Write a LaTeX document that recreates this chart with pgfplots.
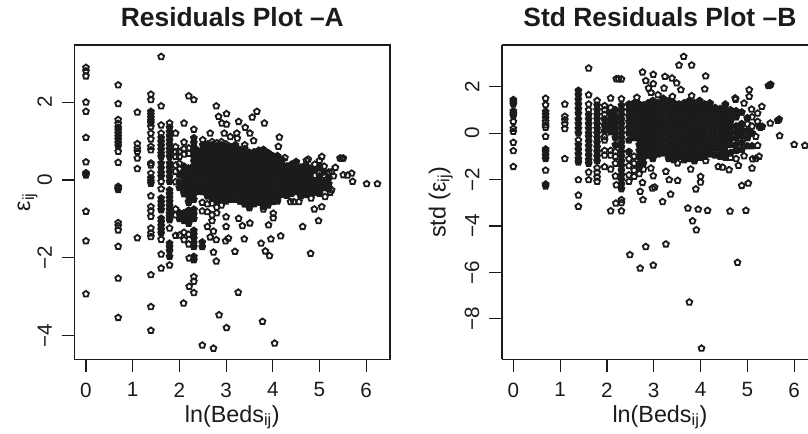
\documentclass[border=0pt]{standalone}
\usepackage{pgfplots}
\usepackage{fontspec}
\setmainfont{Liberation Sans}
\pgfplotsset{compat=1.18}
\usetikzlibrary{plotmarks}
\definecolor{ink}{HTML}{1C1A1B}
\pgfplotsset{
  panel/.style={
    scale only axis, anchor=south west, height=235.7pt,
    axis line style={ink,line width=0.85pt},
    tick style={ink,line width=0.85pt},
    tick align=outside, major tick length=9.5pt,
    xtick pos=bottom, ytick pos=left,
    xtick={0,1,2,3,4,5,6}, xticklabels={0,1,2,3,4,5,6},
    tick label style={font=\fontsize{15.5}{15.5}\selectfont,text=ink},
    x tick label style={yshift=-4.5pt},
    y tick label style={rotate=90,anchor=south,yshift=4pt},
    xlabel={ln(Beds\textsubscript{ij})},
    label style={font=\fontsize{17.5}{17.5}\selectfont,text=ink},
    xlabel style={yshift=1pt},
    title style={font=\bfseries\fontsize{19.8}{19.8}\selectfont,text=ink,yshift=4pt},
  },
  pts/.style={only marks,mark=pentagon,mark size=2.3pt,
    mark options={draw=ink,line width=1.35pt,fill=none,solid},draw=ink},
  dense/.style={only marks,mark=pentagon*,mark size=2.3pt,
    mark options={draw=ink,line width=1.35pt,fill=ink,solid},draw=ink},
}
\begin{document}
\begin{tikzpicture}
\path[use as bounding box] (0pt,0pt) rectangle (606pt,324.75pt);
\begin{axis}[panel, at={(56pt,55.3pt)}, width=236.5pt,
  xmin=-0.242, xmax=6.51, ymin=-4.61, ymax=3.47,
  ytick={-4,-2,0,2}, yticklabels={−4,−2,0,2},
  title={Residuals Plot –A},
  ylabel={ε\textsubscript{ij}}, ylabel style={yshift=-7pt}]
\addplot[pts] coordinates {
(0,2.89)(0,2.8)(0,2.67)(0,2.0)(0,1.76)(0,1.09)(0,.46)(0,-.81)(0,-1.57)(0,-2.93)
(.69,2.44)(.69,1.96)(.69,1.55)(.69,1.45)(.69,.73)(.69,.45)(.69,-1.1)(.69,-1.18)(.69,-1.29)(.69,-1.71)(.69,-2.53)(.69,-3.54)
(1.1,1.74)(1.1,.93)(1.1,.81)(1.1,.73)(1.1,.56)(1.1,.29)(1.1,-1.49)
(1.39,2.2)(1.39,2.06)(1.39,1.37)(1.39,1.2)(1.39,1.05)(1.39,.86)(1.39,.77)(1.39,.43)(1.39,.38)(1.39,.17)(1.39,-.41)(1.39,-.69)(1.39,-.8)(1.39,-.94)(1.39,-1.24)(1.39,-1.37)(1.39,-1.46)(1.39,-2.44)(1.39,-3.26)(1.39,-3.87)
(1.61,3.17)(1.61,1.9)(1.61,1.41)(1.61,1.2)(1.61,-.04)(1.61,-.23)(1.61,-1.53)(1.61,-1.91)(1.61,-2.27)
(1.79,1.46)(1.79,-1.24)(1.79,-2.19)
(1.92,1.2)(1.92,.85)(1.92,.72)(1.92,.6)(1.92,.38)(1.92,.22)(1.92,-.05)(1.92,-.75)(1.92,-.9)(1.92,-1.43)
(2.0,.72)(2.0,.6)(2.0,.42)(2.0,.28)(2.0,-.85)(2.0,-1.42)
(2.1,1.46)(2.1,.97)(2.1,.8)(2.1,.66)(2.1,-.36)(2.1,-1.35)(2.1,-1.54)(2.09,-3.17)
(2.2,2.16)(2.2,.82)(2.2,.68)(2.2,-.42)(2.2,-.58)(2.2,-1.4)(2.2,-1.65)(2.21,-2.01)(2.21,-2.74)
(2.31,2.06)(2.31,1.3)(2.31,-.76)(2.31,-2.49)(2.31,-2.61)(2.31,-2.9)
(2.5,1.03)(2.5,-.3)(2.49,-.58)(2.49,-.8)(2.49,-4.25)
(2.6,.92)(2.6,-.62)(2.6,-.82)(2.6,-1.2)(2.66,1.2)(2.66,-1.47)
(2.7,.98)(2.7,-.6)(2.7,-.9)(2.7,-1.05)(2.73,-1.86)(2.73,-1.32)(2.73,-4.33)
(2.8,.95)(2.8,-.7)(2.8,-.85)(2.79,1.9)(2.79,-1.54)(2.79,-2.09)(2.85,-3.47)
(2.9,.98)(2.9,-.48)(2.9,-.65)(2.84,1.63)(2.91,1.46)
(3.0,.92)(3.0,-.5)(3.0,-.95)(3.0,-1.2)(2.96,1.2)(3.01,1.7)(3.01,1.43)(2.99,-1.57)(3.05,-1.5)(3.01,-3.8)
(3.1,.85)(3.1,-.5)(3.09,1.11)
(3.2,.9)(3.2,-.45)(3.23,1.2)(3.24,1.07)(3.27,1.5)(3.19,.86)(3.19,-1.84)(3.26,-2.89)(3.27,-.99)
(3.3,.78)(3.3,-.55)(3.35,-1.18)
(3.4,.9)(3.4,-.62)(3.41,1.35)(3.39,-1.52)
(3.5,.7)(3.5,-.72)(3.51,1.2)(3.51,-1.11)
(3.6,.72)(3.6,-.62)(3.59,1.01)(3.56,1.61)(3.66,1.76)
(3.7,.76)(3.7,-.58)(3.75,-1.63)(3.78,-3.64)
(3.8,.78)(3.8,-.75)(3.82,1.46)(3.84,-1.83)
(3.9,.7)(3.9,-.65)(3.91,-1.16)(3.93,-1.95)(3.96,-1.52)
(4.0,.62)(4.0,-.56)(4.01,-.86)(4.01,-.98)(4.04,-4.2)
(4.1,.62)(4.1,-.55)(4.14,1.1)(4.12,.86)(4.17,-1.44)
(4.2,.52)(4.2,-.38)(4.26,.57)
(4.3,.35)(4.3,-.4)
(4.4,.4)(4.4,-.35)(4.38,-.56)(4.45,-.56)
(4.5,.47)(4.5,-.3)(4.56,-.56)
(4.6,.32)(4.6,-.42)(4.64,-1.2)
(4.7,.38)(4.7,-.38)(4.76,.53)(4.72,.5)
(4.8,.3)(4.8,-.32)(4.81,-1.89)(4.82,-.47)
(4.9,.4)(4.9,.12)(4.9,-.33)(4.89,-.75)
(5.0,.5)(5.0,.33)(5.0,-.35)(4.98,-1.05)(5.05,.6)(5.05,-.69)
(5.1,.35)(5.1,.12)(5.1,-.2)(5.12,-.43)
(5.2,.2)(5.2,-.22)(5.26,.21)(5.26,-.26)(5.23,-.32)(5.34,.32)(5.3,.1)
(5.44,.56)(5.51,.56)(5.48,.55)(5.51,.13)(5.69,.17)(5.6,.12)(5.71,-.04)(6.01,-.1)(6.24,-.1)
};
\addplot[dense] coordinates {
(0,.18)(0,.15)(0,.12)
(.69,1.35)(.69,1.28)(.69,1.2)(.69,1.12)(.69,1.04)(.69,.95)(.69,.87)(.69,-.17)(.69,-.22)(.69,-.25)
(1.39,1.76)(1.39,1.68)(1.39,1.6)(1.39,1.52)(1.39,1.46)(1.39,.05)(1.39,-.03)(1.39,-.09)
(1.61,1.08)(1.61,.98)(1.61,.88)(1.61,.78)(1.61,.68)(1.61,.6)(1.61,.43)(1.61,.3)(1.61,.18)(1.61,.09)(1.61,-.47)(1.61,-.57)(1.61,-.67)(1.61,-.77)(1.61,-.99)(1.61,-1.08)(1.61,-1.18)(1.61,-1.28)(1.61,-1.37)
(1.79,1.35)(1.79,1.24)(1.79,1.13)(1.79,1.02)(1.79,.91)(1.79,.8)(1.79,.7)(1.79,.6)(1.79,.43)(1.79,.32)(1.79,.2)(1.79,.08)(1.79,-.04)(1.79,-.26)(1.79,-.36)(1.79,-.46)(1.79,-.56)(1.79,-.66)(1.79,-.76)(1.79,-.86)(1.79,-.94)(1.79,-1.03)(1.79,-1.63)(1.79,-1.72)(1.79,-1.82)(1.79,-1.97)
(2.0,.12)(2.0,-.06)(2.0,-.2)(2.0,-1.0)
(2.1,.22)(2.1,.08)(2.1,-.06)(2.1,-.2)(2.1,-.85)(2.1,-.95)(2.1,-1.05)
(2.2,.15)(2.2,.02)(2.2,-.12)(2.2,-.26)(2.2,-.88)(2.2,-1.0)(2.2,-1.12)
(2.31,1.08)(2.31,.96)(2.31,.84)(2.31,.72)(2.31,.6)(2.31,.48)(2.31,.36)(2.31,.24)(2.31,.12)(2.31,0)(2.31,-.12)(2.31,-.24)(2.31,-.36)(2.31,-.88)(2.31,-1.0)(2.31,-1.3)(2.31,-1.4)(2.31,-1.5)(2.31,-1.62)(2.31,-1.72)(2.31,-1.97)(2.31,-2.06)
(2.4,.28)(2.4,.12)(2.4,-.05)(2.4,-.2)
(2.49,-1.6)(2.49,-1.72)
(2.5,.45)(2.5,.3)(2.5,.15)(2.5,0)(2.5,-.15)
(2.6,.78)(2.6,.62)(2.6,.47)(2.6,.32)(2.6,.17)(2.6,.02)(2.6,-.13)(2.6,-.28)
(2.7,.85)(2.7,.7)(2.7,.55)(2.7,.4)(2.7,.25)(2.7,.1)(2.7,-.05)(2.7,-.2)(2.7,-.35)
(2.8,.78)(2.8,.63)(2.8,.48)(2.8,.33)(2.8,.18)(2.8,.03)(2.8,-.12)(2.8,-.27)(2.8,-.42)
(2.9,.85)(2.9,.7)(2.9,.55)(2.9,.4)(2.9,.25)(2.9,.1)(2.9,-.05)(2.9,-.2)(2.9,-.35)
(3.0,.78)(3.0,.63)(3.0,.48)(3.0,.33)(3.0,.18)(3.0,.03)(3.0,-.12)(3.0,-.27)(3.0,-.42)
(3.1,.7)(3.1,.55)(3.1,.4)(3.1,.25)(3.1,.1)(3.1,-.05)(3.1,-.2)(3.1,-.35)
(3.2,.75)(3.2,.6)(3.2,.45)(3.2,.3)(3.2,.15)(3.2,0)(3.2,-.15)(3.2,-.3)
(3.3,.63)(3.3,.48)(3.3,.33)(3.3,.18)(3.3,.03)(3.3,-.12)(3.3,-.27)(3.3,-.42)
(3.4,.72)(3.4,.57)(3.4,.42)(3.4,.27)(3.4,.12)(3.4,-.03)(3.4,-.18)(3.4,-.33)(3.4,-.48)
(3.5,.55)(3.5,.4)(3.5,.25)(3.5,.1)(3.5,-.05)(3.5,-.2)(3.5,-.35)(3.5,-.5)(3.5,-.62)
(3.6,.57)(3.6,.42)(3.6,.27)(3.6,.12)(3.6,-.03)(3.6,-.18)(3.6,-.33)(3.6,-.48)
(3.7,.6)(3.7,.45)(3.7,.3)(3.7,.15)(3.7,0)(3.7,-.15)(3.7,-.3)(3.7,-.45)
(3.8,.63)(3.8,.48)(3.8,.33)(3.8,.18)(3.8,.03)(3.8,-.12)(3.8,-.27)(3.8,-.42)(3.8,-.57)
(3.9,.55)(3.9,.4)(3.9,.25)(3.9,.1)(3.9,-.05)(3.9,-.2)(3.9,-.35)(3.9,-.5)
(4.0,.47)(4.0,.32)(4.0,.17)(4.0,.02)(4.0,-.13)(4.0,-.28)(4.0,-.43)
(4.1,.47)(4.1,.32)(4.1,.17)(4.1,.02)(4.1,-.13)(4.1,-.28)(4.1,-.43)
(4.2,.37)(4.2,.22)(4.2,.07)(4.2,-.08)(4.2,-.23)
(4.3,.2)(4.3,.05)(4.3,-.1)(4.3,-.25)
(4.4,.25)(4.4,.1)(4.4,-.05)(4.4,-.2)
(4.5,.3)(4.5,.15)(4.5,0)(4.5,-.15)
(4.6,.17)(4.6,.02)(4.6,-.13)(4.6,-.28)
(4.7,.22)(4.7,.07)(4.7,-.08)(4.7,-.23)
(4.8,.13)(4.8,-.02)(4.8,-.17)
(4.9,-.03)(4.9,-.18)
(5.0,.1)(5.0,-.05)(5.0,-.2)
(5.1,-.05)
(5.2,.05)(5.2,-.1)
(2.6,.88)(2.7,.9)(2.8,.88)(2.9,.9)(3.0,.86)(3.1,.8)(3.2,.84)(3.3,.74)(3.4,.8)
(2.6,-.42)(2.7,-.48)(2.8,-.55)(2.9,-.5)(3.0,-.55)(3.1,-.5)(3.2,-.5)(3.3,-.55)(3.4,-.62)(3.5,-.7)(3.6,-.6)(3.7,-.55)(3.8,-.68)(3.9,-.62)(4.0,-.55)(4.1,-.52)
(3.5,.7)(3.6,.7)(3.7,.74)(3.8,.76)(3.9,.68)(4.0,.6)(4.1,.6)(4.2,.5)(4.3,.35)(4.4,.38)(4.5,.45)(4.6,.32)(4.7,.36)(4.8,.28)(4.9,.25)(5.0,.3)(5.1,.2)
(4.2,-.36)(4.3,-.38)(4.4,-.34)(4.5,-.3)(4.6,-.4)(4.7,-.36)(4.8,-.3)(4.9,-.32)(5.0,-.33)(5.1,-.2)(5.2,-.2)
(2.1,.35)(2.2,.3)(2.4,.45)(2.4,.6)(2.4,.75)(2.5,.6)(2.5,.75)(2.5,.9)(2.6,.9)(2.5,-.3)(2.4,-.3)(2.1,-.32)(2.2,-.4)(2.2,-.55)(2.31,-.5)(2.31,-.76)(2.0,-.85)(2.2,-.78)
};
\end{axis}
\begin{axis}[panel, at={(376.5pt,55.3pt)}, width=229.5pt,
  xmin=-0.242, xmax=6.296, ymin=-9.74, ymax=3.8,
  axis x line*=bottom, axis y line*=left, clip=false,
  ytick={-8,-6,-4,-2,0,2}, yticklabels={−8,−6,−4,−2,0,2},
  title={Std Residuals Plot –B}, title style={at={(axis description cs:0.516,1)}},
  xlabel style={xshift=3.7pt},
  ylabel={std (ε\textsubscript{ij})}, ylabel style={yshift=2pt}]
\draw[ink,line width=0.85pt] (rel axis cs:0,1) -- (rel axis cs:1,1);
\addplot[pts] coordinates {
(0,.5)(0,.2)(0,.07)(0,-.4)(0,-.76)(0,-1.44)
(.69,1.5)(.69,1.22)(.69,.65)(.69,.5)(.69,.35)(.69,.25)(.69,-.14)(.69,-1.6)
(1.1,1.25)(1.1,.72)(1.1,.57)(1.1,.4)(1.1,.19)(1.1,-1.1)
(1.39,-.3)(1.39,-2.01)(1.39,-2.67)(1.39,-3.16)
(1.61,2.8)(1.61,1.65)(1.61,1.25)(1.61,1.0)(1.61,-1.68)(1.61,-2.01)
(1.79,1.4)(1.79,-1.5)(1.79,-1.7)(1.79,-1.9)(1.79,-2.08)
(1.95,1.18)(1.95,1.0)(1.95,.8)(1.95,.6)(1.95,.35)(1.95,.1)(1.95,-.15)(1.95,-.3)(1.95,-.75)(1.95,-.95)(1.95,-1.45)
(2.08,1.51)(2.08,1.1)(2.08,.85)(2.08,.6)(2.08,.4)(2.08,.2)(2.08,-.75)(2.08,-.95)(2.08,-1.55)(2.08,-3.35)
(2.18,1.0)(2.18,.7)(2.18,.45)(2.18,-.8)(2.18,-1.0)(2.18,-1.3)(2.18,-1.85)(2.2,2.34)(2.2,-2.23)(2.19,-3.02)(2.25,2.34)
(2.31,2.33)(2.31,1.48)(2.31,-2.87)(2.31,-3.0)(2.31,-3.35)
(2.47,1.25)(2.47,-.8)(2.47,-1.1)(2.47,-1.4)(2.47,-1.8)(2.47,-2.08)(2.49,-5.24)
(2.58,1.3)(2.58,-.2)(2.58,-1.0)(2.58,-1.3)(2.58,-1.6)(2.58,-1.87)
(2.69,1.25)(2.69,-1.75)(2.64,1.54)(2.71,-2.51)(2.71,-5.82)
(2.78,1.2)(2.78,-1.55)(2.76,2.63)(2.76,-2.13)(2.77,-2.87)(2.83,2.26)(2.83,-4.89)
(2.88,1.3)(2.88,-.95)(2.89,1.94)(2.94,1.75)(2.94,-1.51)
(2.98,1.4)(2.98,-1.1)(2.99,2.53)(2.99,2.13)(2.99,-1.84)(2.97,-2.37)(3.02,-2.33)(2.99,-5.69)
(3.09,1.65)(3.09,1.3)(3.09,-.9)
(3.2,1.5)(3.2,-.85)(3.22,1.94)(3.24,2.44)(3.26,-1.65)(3.19,-2.95)(3.26,-4.78)
(3.32,1.4)(3.32,-1.1)(3.39,2.37)(3.4,1.58)(3.33,-2.01)(3.36,-2.63)
(3.43,1.3)(3.43,-1.15)(3.49,2.16)(3.51,-1.29)(3.51,-2.04)
(3.54,1.25)(3.54,-1.0)(3.58,1.87)(3.54,2.93)(3.64,3.3)
(3.65,1.3)(3.65,-1.15)(3.73,-3.23)
(3.76,1.4)(3.76,-1.1)(3.79,-1.55)(3.81,2.93)(3.81,1.61)(3.76,-7.28)(3.83,-3.78)
(3.87,1.3)(3.87,-1.2)(3.9,-2.41)(3.91,-4.17)(3.95,-3.28)
(3.98,1.4)(3.98,-1.05)(4.0,-1.87)(4.0,-2.11)(4.02,-9.27)
(4.09,1.25)(4.09,-1.0)(4.09,1.9)(4.11,2.46)(4.11,-1.19)(4.15,-3.33)
(4.2,1.3)(4.2,-.9)
(4.31,1.1)(4.31,-.95)
(4.42,1.05)(4.42,-1.0)(4.38,-1.44)(4.47,-1.47)
(4.53,1.25)(4.53,-1.05)(4.61,-1.58)(4.63,-3.36)
(4.64,1.0)(4.64,-.85)(4.64,-1.05)(4.74,1.51)(4.75,1.45)(4.79,-5.57)
(4.76,.95)(4.76,.7)(4.76,.3)(4.76,-.5)(4.76,-.75)(4.76,-1.1)(4.81,-1.39)
(4.88,.9)(4.88,.4)(4.88,-.4)(4.88,-.7)(4.88,-2.26)(4.93,1.29)(4.93,-.98)(4.97,-3.33)
(5.0,.65)(5.0,.4)(5.0,.1)(5.0,-.2)(5.02,-2.16)(5.04,1.87)(5.04,1.58)(5.09,1.03)
(5.1,.7)(5.1,.3)(5.1,.0)(5.11,-1.11)(5.1,-1.51)(5.18,-1.1)
(5.22,.86)(5.18,-.14)(5.22,-.53)(5.25,-1.0)(5.22,.5)(5.31,1.15)
(5.49,.43)(5.69,-.11)(6.0,-.49)(6.23,-.53)
};
\addplot[dense] coordinates {
(0,1.44)(0,1.35)(0,1.25)(0,.95)(0,.85)(0,.75)
(.69,.93)(.69,.8)(.69,-.69)(.69,-.8)(.69,-.95)(.69,-1.1)(.69,-2.2)(.69,-2.28)
(1.39,1.84)(1.39,1.65)(1.39,1.45)(1.39,1.25)(1.39,1.05)(1.39,.85)(1.39,.6)(1.39,.4)(1.39,.2)(1.39,0)(1.39,-.5)(1.39,-.7)(1.39,-.9)(1.39,-1.1)(1.39,-1.25)
(1.61,.8)(1.61,.6)(1.61,.4)(1.61,.2)(1.61,0)(1.61,-.15)(1.61,-.35)(1.61,-.55)(1.61,-.75)(1.61,-.95)(1.61,-1.15)(1.61,-1.3)
(1.79,1.2)(1.79,1.0)(1.79,.8)(1.79,.6)(1.79,.4)(1.79,.2)(1.79,0)(1.79,-.2)(1.79,-.4)(1.79,-.6)(1.79,-.8)(1.79,-1.0)(1.79,-1.2)
(2.18,.2)(2.18,0)(2.18,-.2)(2.18,-.5)
(2.31,1.2)(2.31,1.0)(2.31,.8)(2.31,.6)(2.31,.4)(2.31,.2)(2.31,0)(2.31,-.2)(2.31,-.4)(2.31,-.6)(2.31,-.8)(2.31,-1.0)(2.31,-1.2)(2.31,-1.4)(2.31,-1.6)(2.31,-1.8)(2.31,-2.0)(2.31,-2.2)(2.31,-2.4)
(2.47,1.0)(2.47,.75)(2.47,.5)(2.47,.25)(2.47,0)(2.47,-.3)
(2.58,1.05)(2.58,.8)(2.58,.55)(2.58,.3)(2.58,.05)
(2.69,1.0)(2.69,.75)(2.69,.5)(2.69,.25)(2.69,0)(2.69,-.25)(2.69,-.5)(2.69,-.75)(2.69,-1.0)(2.69,-1.3)(2.69,-1.5)
(2.78,.95)(2.78,.7)(2.78,.45)(2.78,.2)(2.78,-.05)(2.78,-.3)(2.78,-.55)(2.78,-.8)(2.78,-1.05)(2.78,-1.3)
(2.88,1.05)(2.88,.8)(2.88,.55)(2.88,.3)(2.88,.05)(2.88,-.2)(2.88,-.45)(2.88,-.7)
(2.98,1.15)(2.98,.9)(2.98,.65)(2.98,.4)(2.98,.15)(2.98,-.1)(2.98,-.35)(2.98,-.6)(2.98,-.85)
(3.09,1.05)(3.09,.8)(3.09,.55)(3.09,.3)(3.09,.05)(3.09,-.2)(3.09,-.45)(3.09,-.7)
(3.2,1.25)(3.2,1.0)(3.2,.75)(3.2,.5)(3.2,.25)(3.2,0)(3.2,-.25)(3.2,-.5)(3.2,-.75)
(3.32,1.15)(3.32,.9)(3.32,.65)(3.32,.4)(3.32,.15)(3.32,-.1)(3.32,-.35)(3.32,-.6)(3.32,-.85)
(3.43,1.05)(3.43,.8)(3.43,.55)(3.43,.3)(3.43,.05)(3.43,-.2)(3.43,-.45)(3.43,-.7)(3.43,-.95)
(3.54,1.0)(3.54,.75)(3.54,.5)(3.54,.25)(3.54,0)(3.54,-.25)(3.54,-.5)(3.54,-.75)
(3.65,1.05)(3.65,.8)(3.65,.55)(3.65,.3)(3.65,.05)(3.65,-.2)(3.65,-.45)(3.65,-.7)(3.65,-.95)
(3.76,1.15)(3.76,.9)(3.76,.65)(3.76,.4)(3.76,.15)(3.76,-.1)(3.76,-.35)(3.76,-.6)(3.76,-.85)
(3.87,1.05)(3.87,.8)(3.87,.55)(3.87,.3)(3.87,.05)(3.87,-.2)(3.87,-.45)(3.87,-.7)(3.87,-.95)
(3.98,1.15)(3.98,.9)(3.98,.65)(3.98,.4)(3.98,.15)(3.98,-.1)(3.98,-.35)(3.98,-.6)(3.98,-.85)
(4.09,1.0)(4.09,.75)(4.09,.5)(4.09,.25)(4.09,0)(4.09,-.25)(4.09,-.5)(4.09,-.75)
(4.2,1.05)(4.2,.8)(4.2,.55)(4.2,.3)(4.2,.05)(4.2,-.2)(4.2,-.45)(4.2,-.7)
(4.31,.85)(4.31,.6)(4.31,.35)(4.31,.1)(4.31,-.15)(4.31,-.4)(4.31,-.65)
(4.42,.8)(4.42,.55)(4.42,.3)(4.42,.05)(4.42,-.2)(4.42,-.45)(4.42,-.7)
(4.53,.95)(4.53,.7)(4.53,.45)(4.53,.2)(4.53,-.05)(4.53,-.3)(4.53,-.55)(4.53,-.8)
(4.64,.75)(4.64,.5)(4.64,.25)(4.64,0)(4.64,-.25)(4.64,-.5)
(4.76,.05)(4.76,-.2)
(4.88,.15)(4.88,-.1)
(5.0,-.55)(5.1,-.55)
(5.25,.3)(5.32,.29)(5.28,.25)
(5.45,2.04)(5.5,2.1)(5.47,2.07)(5.68,.6)(5.65,.55)
(2.47,1.22)(2.58,1.28)(2.69,1.22)(2.78,1.2)(2.88,1.28)(2.98,1.38)(3.09,1.3)(3.2,1.45)(3.32,1.38)(3.43,1.28)(3.54,1.22)(3.65,1.28)(3.76,1.38)(3.87,1.28)(3.98,1.38)(4.09,1.22)(4.2,1.28)(4.31,1.08)(4.42,1.03)(4.53,1.2)(4.64,.98)
(2.88,-.95)(2.98,-1.08)(3.09,-.9)(3.2,-.85)(3.32,-1.08)(3.43,-1.12)(3.54,-1.0)(3.65,-1.12)(3.76,-1.08)(3.87,-1.18)(3.98,-1.03)(4.09,-1.0)(4.2,-.9)(4.31,-.92)(4.42,-.98)(4.53,-1.02)(4.64,-.85)
(2.47,-.8)(2.58,-.2)(2.08,.4)(2.08,.2)(2.18,.45)(2.08,.6)(2.18,.7)(2.18,1.0)(2.08,.85)(1.95,.6)(1.95,.35)(1.95,.1)(2.08,.05)
(4.76,.7)(4.76,.3)(4.76,-.5)(4.76,-.75)(4.88,.4)(4.88,-.4)(4.88,-.7)(5.0,-.2)(5.0,.1)(5.1,.0)(5.0,.65)(4.76,.95)(4.88,.9)
};
\end{axis}
\end{tikzpicture}
\end{document}
